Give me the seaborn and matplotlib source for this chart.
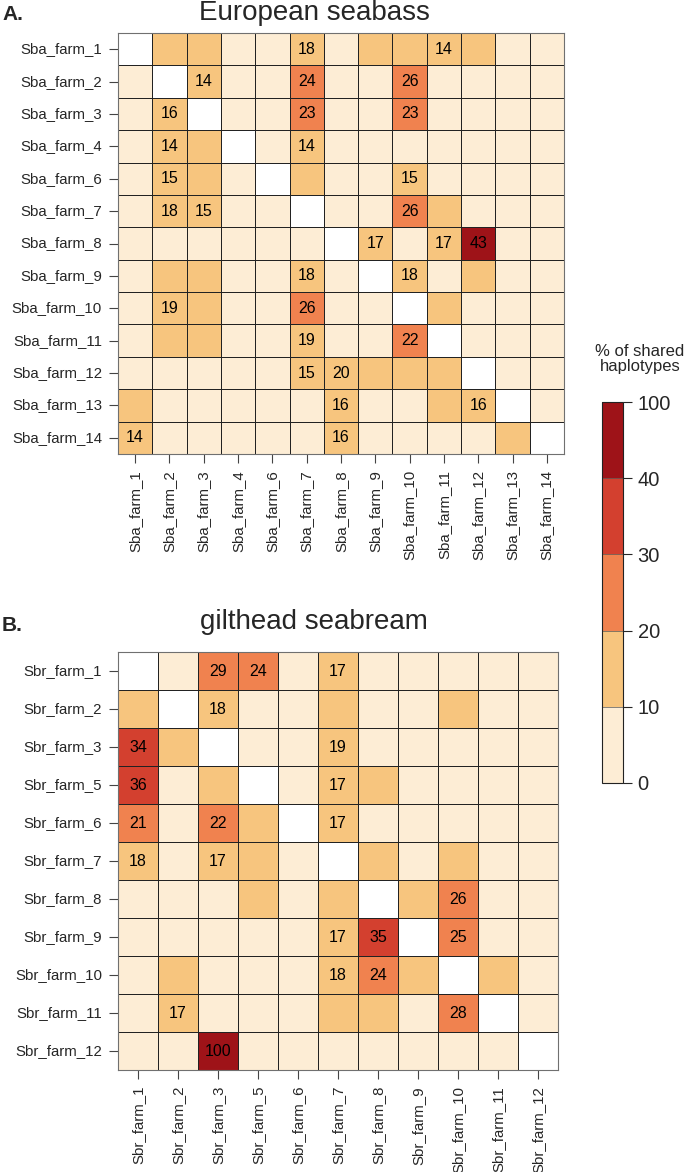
import numpy as np
import pandas as pd
import matplotlib.pyplot as plt
import seaborn as sns
from matplotlib.colors import ListedColormap, BoundaryNorm

n = np.nan

# European seabass farms (rows and columns in the same order)
sba_farms = ['Sba_farm_1', 'Sba_farm_2', 'Sba_farm_3', 'Sba_farm_4', 'Sba_farm_6',
             'Sba_farm_7', 'Sba_farm_8', 'Sba_farm_9', 'Sba_farm_10', 'Sba_farm_11',
             'Sba_farm_12', 'Sba_farm_13', 'Sba_farm_14']
# % of shared haplotypes; unlabeled cells estimated from their colour bin
sba_shared = [
    [n, 12, 12, 5, 5, 18, 5, 12, 12, 14, 12, 5, 5],
    [5, n, 14, 5, 5, 24, 5, 5, 26, 5, 5, 5, 5],
    [5, 16, n, 5, 5, 23, 5, 5, 23, 5, 5, 5, 5],
    [5, 14, 12, n, 5, 14, 5, 5, 5, 5, 5, 5, 5],
    [5, 15, 12, 5, n, 12, 5, 5, 15, 5, 5, 5, 5],
    [5, 18, 15, 5, 5, n, 5, 5, 26, 12, 5, 5, 5],
    [5, 5, 5, 5, 5, 5, n, 17, 5, 17, 43, 5, 5],
    [5, 12, 12, 5, 5, 18, 5, n, 18, 5, 12, 5, 5],
    [5, 19, 12, 5, 5, 26, 5, 5, n, 12, 5, 5, 5],
    [5, 12, 12, 5, 5, 19, 5, 5, 22, n, 5, 5, 5],
    [5, 5, 5, 5, 5, 15, 19.8, 12, 12, 12, n, 5, 5],
    [12, 5, 5, 5, 5, 5, 16, 5, 5, 12, 16, n, 5],
    [14, 5, 5, 5, 5, 5, 16, 5, 5, 5, 5, 12, n],
]

# gilthead seabream farms
sbr_farms = ['Sbr_farm_1', 'Sbr_farm_2', 'Sbr_farm_3', 'Sbr_farm_5', 'Sbr_farm_6',
             'Sbr_farm_7', 'Sbr_farm_8', 'Sbr_farm_9', 'Sbr_farm_10', 'Sbr_farm_11',
             'Sbr_farm_12']
sbr_shared = [
    [n, 5, 29, 24, 5, 17, 5, 5, 5, 5, 5],
    [12, n, 18, 5, 5, 12, 5, 5, 12, 5, 5],
    [34, 12, n, 5, 5, 19, 5, 5, 5, 5, 5],
    [36, 5, 12, n, 5, 17, 12, 5, 5, 5, 5],
    [21, 5, 22, 12, n, 17, 5, 5, 5, 5, 5],
    [18, 5, 17, 12, 5, n, 12, 5, 12, 5, 5],
    [5, 5, 5, 12, 5, 12, n, 12, 26, 5, 5],
    [5, 5, 5, 5, 5, 17, 35, n, 25, 5, 5],
    [5, 12, 5, 5, 5, 18, 24, 12, n, 12, 5],
    [5, 17, 5, 5, 5, 12, 12, 5, 28, n, 5],
    [5, 5, 100, 5, 5, 5, 5, 5, 5, 5, n],
]

bin_edges = [0, 10, 20, 30, 40, 100]
bin_colors = ['#FDEDD5', '#F7C57E', '#F0824F', '#D3402F', '#9E1318']
label_min = 14

sns.set_style('white')
plt.rcParams['font.family'] = ['Liberation Sans', 'DejaVu Sans']

cmap = ListedColormap(bin_colors)
cmap.set_over(bin_colors[-1])
norm = BoundaryNorm(bin_edges, cmap.N)

W, H = 685, 1172
fig = plt.figure(figsize=(W / 100, H / 100), dpi=100)
ax_a = fig.add_axes([118 / W, 1 - 454 / H, 446 / W, 421 / H])
ax_b = fig.add_axes([118 / W, 1 - 1070 / H, 440 / W, 418 / H])
cax = fig.add_axes([602 / W, 1 - 783 / H, 21 / W, 381 / H])


def cell_labels(df):
    return [[f'{v:.0f}' if v >= label_min else '' for v in row] for row in df.values]


def draw(ax, values, farms, with_cbar):
    df = pd.DataFrame(values, index=farms, columns=farms)
    sns.heatmap(df, ax=ax, cmap=cmap, norm=norm,
                annot=np.array(cell_labels(df)), fmt='',
                annot_kws={'color': 'black', 'fontsize': 11.5},
                linewidths=0.55, linecolor='#222222',
                cbar=with_cbar, cbar_ax=cax if with_cbar else None,
                cbar_kws={'ticks': bin_edges, 'drawedges': True} if with_cbar else None)
    ax.tick_params(left=True, bottom=True, length=6.5, width=0.8, color='#444444',
                   pad=5, labelsize=10.8)
    ax.set_yticklabels(farms, rotation=0)
    ax.set_xticklabels(farms, rotation=90, va='top')
    for sp in ax.spines.values():
        sp.set_visible(True)
        sp.set_color('#707070')
        sp.set_linewidth(0.8)


draw(ax_a, sba_shared, sba_farms, False)
draw(ax_b, sbr_shared, sbr_farms, True)

cb = ax_b.collections[0].colorbar
cb.ax.tick_params(right=True, length=6.5, width=0.8, labelsize=14.5, pad=4)
cb.outline.set_edgecolor('#222222')
cb.outline.set_linewidth(0.8)
cb.dividers.set_color('#555555')
cb.dividers.set_linewidth(0.5)

fig.text(2 / W, 1 - 20 / H, 'A.', fontsize=15, fontweight='bold', va='baseline')
fig.text(314 / W, 1 - 20 / H, 'European seabass', fontsize=20, ha='center', va='baseline')
fig.text(2 / W, 1 - 631 / H, 'B.', fontsize=15, fontweight='bold', va='baseline')
fig.text(314 / W, 1 - 629 / H, 'gilthead seabream', fontsize=20, ha='center', va='baseline')
fig.text(640 / W, 1 - 359 / H, '% of shared\nhaplotypes', fontsize=12, ha='center',
         va='center', linespacing=0.95)

fig.savefig('out.png', dpi=100)
